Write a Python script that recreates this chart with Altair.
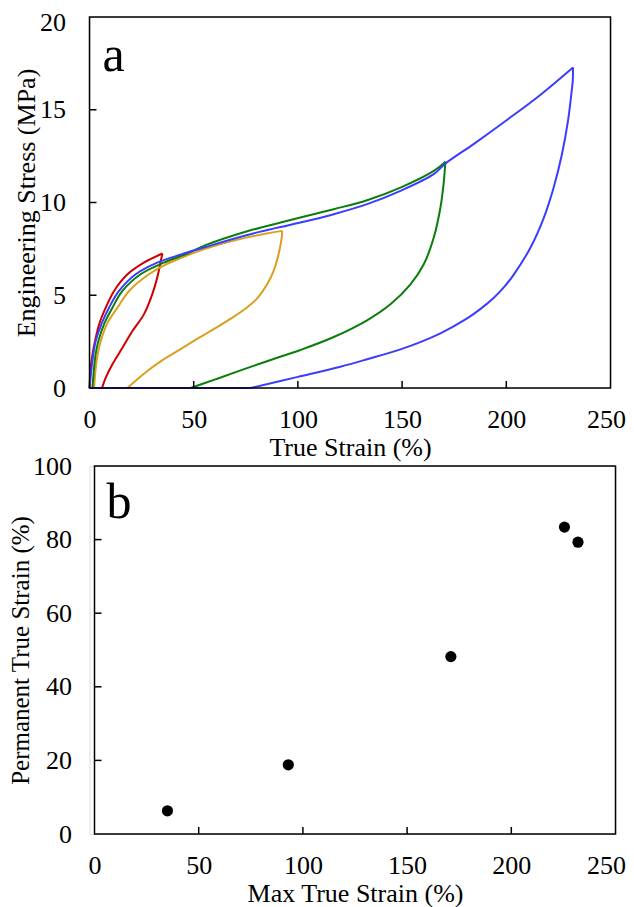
import altair as alt
import pandas as pd

FONT = "Liberation Serif"

# ---------------- Panel a: stress-strain cycles ----------------
# red (max strain 35 %)
red_load_strain = [0, 0.6, 1.5, 2.65, 4.8, 7.8, 11.8, 18.2, 26.1, 35.0]
red_load_stress = [0, 1.1, 1.85, 2.53, 3.5, 4.33, 5.23, 6.13, 6.76, 7.25]
red_unload_strain = [35.0, 34.3, 33.6, 32.5, 30.1, 26.1, 20.6, 15.8, 11.0, 7.8, 6.0]
red_unload_stress = [7.25, 6.9, 6.5, 5.95, 5.05, 3.97, 3.07, 2.17, 1.28, 0.56, 0]

# orange (max strain 93 %)
orange_load_strain = [2.2, 3.0, 3.9, 5.4, 8.6, 13.4, 19.0, 28.5, 36.5, 43.7, 54.1, 75.7, 92.5]
orange_load_stress = [0, 1.1, 1.8, 2.53, 3.5, 4.33, 5.23, 6.13, 6.65, 7.0, 7.45, 8.12, 8.47]
orange_unload_strain = [92.5, 92.1, 90.9, 88.5, 85.3, 81.0, 75.7, 68.0, 60.0, 52.0, 43.7, 35.0, 27.0, 18.2]
orange_unload_stress = [8.47, 8.0, 7.3, 6.35, 5.6, 4.9, 4.35, 3.75, 3.2, 2.67, 2.1, 1.5, 0.85, 0]

# green (max strain 171 %)
green_load_strain = [1.4, 2.2, 2.9, 4.25, 7.2, 11.0, 15.8, 24.5, 35.7, 46.1, 55.7, 75.7,
                     91.7, 101.2, 117.2, 133.2, 149.2, 165.2, 170.8]
green_load_stress = [0, 1.1, 1.8, 2.53, 3.5, 4.33, 5.23, 6.13, 6.76, 7.21, 7.7, 8.45,
                     8.92, 9.19, 9.64, 10.12, 10.8, 11.7, 12.2]
green_unload_strain = [170.8, 170.3, 169.9, 168.4, 165.2, 160.4, 154.0, 144.4, 133.2, 117.2,
                       101.2, 88.0, 72.5, 60.0, 48.5]
green_unload_stress = [12.2, 11.5, 10.99, 9.73, 8.11, 6.67, 5.59, 4.51, 3.65, 2.75,
                       2.05, 1.55, 0.95, 0.45, 0]

# blue (max strain 232 %)
blue_load_strain = [0, 1.0, 1.8, 2.97, 5.9, 9.37, 14.16, 22.15, 32.5, 44.0, 55.7, 75.7,
                    91.7, 101.2, 117.2, 133.2, 149.2, 165.2, 170.8, 184.3, 200.3, 216.3, 232.0]
blue_load_stress = [0, 1.1, 1.8, 2.53, 3.5, 4.33, 5.23, 6.13, 6.76, 7.2, 7.6, 8.25,
                    8.68, 8.92, 9.37, 9.91, 10.63, 11.53, 12.1, 13.15, 14.45, 15.8, 17.28]
blue_unload_strain = [232.0, 231.9, 231.2, 229.6, 226.7, 222.7, 217.9, 211.5, 203.5, 199.0,
                      193.9, 187.5, 181.2, 168.4, 149.2, 133.2, 120.4, 100.0, 77.3]
blue_unload_stress = [17.28, 16.6, 15.84, 14.4, 12.6, 10.8, 9.15, 7.55, 6.1, 5.45,
                      4.85, 4.25, 3.75, 2.95, 2.08, 1.55, 1.15, 0.6, 0]

# residual strain after unloading, returning at zero stress
residual_strain = {"red": 6.0, "orange": 18.2, "green": 48.5, "blue": 77.3}

colors = {"red": "#d00000", "orange": "#d9a01c", "green": "#0b7d0b", "blue": "#3c3cff"}

curves = {
    "red": (red_load_strain, red_load_stress, red_unload_strain, red_unload_stress),
    "orange": (orange_load_strain, orange_load_stress, orange_unload_strain, orange_unload_stress),
    "green": (green_load_strain, green_load_stress, green_unload_strain, green_unload_stress),
    "blue": (blue_load_strain, blue_load_stress, blue_unload_strain, blue_unload_stress),
}

# ---------------- Panel b: permanent strain ----------------
max_strain = [35, 93, 171, 225.5, 232]
perm_strain = [6.3, 18.8, 48.2, 83.4, 79.3]

x_ticks_a = [50, 100, 150, 200]
y_ticks_a = [5, 10, 15]
x_ticks_b = [50, 100, 150, 200]
y_ticks_b = [20, 40, 60, 80]

WA, HA = 521, 371
WB, HB = 526, 368  # bottom panel: plot range starts 5px right
XB0 = 5
TICK = 7
FS = 26

axis_common = dict(
    labelFont=FONT, labelFontSize=FS, labelColor="black",
    titleFont=FONT, titleFontSize=FS, titleFontWeight="normal", titleColor="black",
    ticks=False, grid=False, domain=False, labelFlush=False,
)


def label_shift(value, px):
    return {"condition": {"test": f"datum.value == {value}", "value": px}, "value": 0}


# ---- build panel a ----
xs_a = alt.Scale(domain=[0, 250], nice=False)
ys_a = alt.Scale(domain=[0, 20], nice=False)

layers_a = []
first = True
for name in ["red", "orange", "green", "blue"]:
    ls, lt, us, ut = curves[name]
    rows = []
    for i, (s, t) in enumerate(zip(ls, lt)):
        rows.append({"strain": s, "stress": t, "seg": "load", "i": i})
    for i, (s, t) in enumerate(zip(us, ut)):
        rows.append({"strain": s, "stress": t, "seg": "unload", "i": i})
    rows.append({"strain": residual_strain[name], "stress": 0, "seg": "zero", "i": 0})
    rows.append({"strain": 0, "stress": 0, "seg": "zero", "i": 1})
    df = pd.DataFrame(rows)
    if first:
        xenc = alt.X("strain:Q", scale=xs_a,
                     axis=alt.Axis(values=[0, 50, 100, 150, 200, 250], labelPadding=18,
                                   labelOffset=label_shift(250, -4.5),
                                   title="True Strain (%)", titlePadding=2, **axis_common))
        yenc = alt.Y("stress:Q", scale=ys_a,
                     axis=alt.Axis(values=[0, 5, 10, 15, 20], labelPadding=24,
                                   labelOffset=label_shift(20, 5),
                                   title="Engineering Stress (MPa)", titlePadding=0,
                                   **axis_common))
        first = False
    else:
        xenc = alt.X("strain:Q", scale=xs_a)
        yenc = alt.Y("stress:Q", scale=ys_a)
    layers_a.append(
        alt.Chart(df).mark_line(color=colors[name], strokeWidth=2, interpolate="catmull-rom")
        .encode(x=xenc, y=yenc, detail="seg:N", order="i:Q")
    )

frame_df = pd.DataFrame({"k": [0]})
frame_a = alt.Chart(frame_df).mark_rect(fillOpacity=0, stroke="black", strokeWidth=1.5).encode(
    x=alt.value(0), x2=alt.value(WA), y=alt.value(0), y2=alt.value(HA))
xt_a = alt.Chart(pd.DataFrame({"v": x_ticks_a})).mark_rule(color="black", strokeWidth=1.5).encode(
    x=alt.X("v:Q", scale=xs_a), y=alt.value(HA), y2=alt.value(HA - TICK))
yt_a = alt.Chart(pd.DataFrame({"v": y_ticks_a})).mark_rule(color="black", strokeWidth=1.5).encode(
    y=alt.Y("v:Q", scale=ys_a), x=alt.value(0), x2=alt.value(TICK))
lab_a = alt.Chart(frame_df).mark_text(text="a", font=FONT, fontSize=50, align="left",
                                      baseline="alphabetic", color="black").encode(
    x=alt.value(13), y=alt.value(54))

panel_a = alt.layer(*layers_a, frame_a, xt_a, yt_a, lab_a).properties(width=WA, height=HA)

# ---- build panel b ----
xs_b = alt.Scale(domain=[0, 250], nice=False, range=[XB0, WB])
ys_b = alt.Scale(domain=[0, 100], nice=False)
pts = pd.DataFrame({"max": max_strain, "perm": perm_strain})
scatter = alt.Chart(pts).mark_circle(size=125, color="black", opacity=1).encode(
    x=alt.X("max:Q", scale=xs_b,
            axis=alt.Axis(values=[0, 50, 100, 150, 200, 250], labelPadding=18,
                          labelOffset=label_shift(250, -9.5),
                          title="Max True Strain (%)", titlePadding=2, **axis_common)),
    y=alt.Y("perm:Q", scale=ys_b,
            axis=alt.Axis(values=[0, 20, 40, 60, 80, 100], labelPadding=23, offset=-XB0,
                          title="Permanent True Strain (%)", titlePadding=-1,
                          **{**axis_common, "titleFontSize": 25})),
)
frame_b = alt.Chart(frame_df).mark_rect(fillOpacity=0, stroke="black", strokeWidth=1.5).encode(
    x=alt.value(XB0), x2=alt.value(WB), y=alt.value(0), y2=alt.value(HB))
xt_b = alt.Chart(pd.DataFrame({"v": x_ticks_b})).mark_rule(color="black", strokeWidth=1.5).encode(
    x=alt.X("v:Q", scale=xs_b), y=alt.value(HB), y2=alt.value(HB - TICK))
yt_b = alt.Chart(pd.DataFrame({"v": y_ticks_b})).mark_rule(color="black", strokeWidth=1.5).encode(
    y=alt.Y("v:Q", scale=ys_b), x=alt.value(XB0), x2=alt.value(XB0 + TICK))
lab_b = alt.Chart(frame_df).mark_text(text="b", font=FONT, fontSize=50, align="left",
                                      baseline="alphabetic", color="black").encode(
    x=alt.value(XB0 + 12), y=alt.value(52))

panel_b = alt.layer(scatter, frame_b, xt_b, yt_b, lab_b).properties(width=WB, height=HB)

chart = alt.vconcat(panel_a, panel_b, spacing=78, bounds="flush").properties(
    padding={"left": -0.5, "top": 0, "right": -1, "bottom": 0}
).configure_view(strokeWidth=0).configure(background="white")

chart.save("out.html", embed_options={"renderer": "svg", "actions": False})
